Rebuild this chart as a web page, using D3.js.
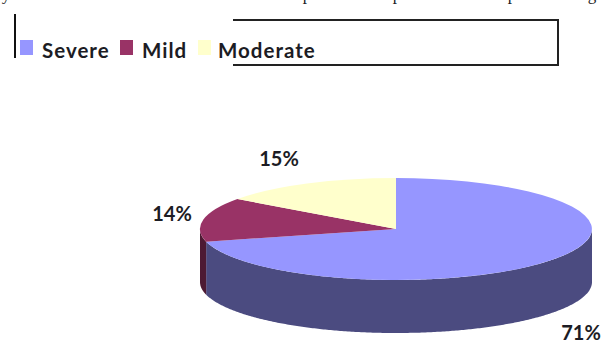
<!DOCTYPE html>
<html>
<head>
<meta charset="utf-8">
<script src="https://cdn.jsdelivr.net/npm/d3@7"></script>
<style>
  html, body { margin: 0; background: #fff; }
  svg { display: block; }
  text { font-family: Lato, "Open Sans", sans-serif; font-weight: 700; fill: #1c1c24; }
</style>
</head>
<body>
<svg id="chart" width="602" height="342"></svg>
<script>
const categories = ["Severe", "Mild", "Moderate"];
const values = [71, 14, 15];
const topColors = ["#9696ff", "#993366", "#ffffcc"];
const sideColors = ["#4b4b80", "#4d1a33", "#808066"];
const labelSpots = [[581, 340], [172, 221], [279, 166]];
const legendSwatchX = [20, 120, 198];
const legendTextX = [42, 142, 218];
const clippedLetters = ["y", "p", "p", "p", "g"];
const clippedLetterX = [6, 307, 397, 512, 592];

const svg = d3.select("#chart");
const cx = 396, cy = 229, rx = 196, ry = 51, depth = 53;

// Ellipse projection of a pie angle, measured clockwise from twelve o'clock.
const px = d3.scaleLinear().domain([-1, 1]).range([cx - rx, cx + rx]);
const py = d3.scaleLinear().domain([-1, 1]).range([cy + ry, cy - ry]);

const slices = d3.pie().sort(null).value(d => d)(values);

// Outer wall: only the part of each slice facing the viewer (90deg to 270deg).
const wall = d3.area()
  .x(a => px(Math.sin(a)))
  .y0(a => py(Math.cos(a)))
  .y1(a => py(Math.cos(a)) + depth);

slices.forEach((s, i) => {
  const from = Math.max(s.startAngle, Math.PI / 2);
  const to = Math.min(s.endAngle, Math.PI * 1.5);
  if (from >= to) return;
  const angles = d3.range(from, to, 0.01).concat([to]);
  svg.append("path").attr("d", wall(angles)).attr("fill", sideColors[i]);
});

// Top face: a flat d3.arc squashed into the ellipse.
const arc = d3.arc().innerRadius(0).outerRadius(1);
svg.append("g")
  .attr("transform", `translate(${cx},${cy}) scale(${rx},${ry})`)
  .selectAll("path")
  .data(slices)
  .join("path")
  .attr("d", arc)
  .attr("fill", (d, i) => topColors[i]);

// Percentage labels
svg.append("g")
  .selectAll("text")
  .data(values)
  .join("text")
  .attr("x", (d, i) => labelSpots[i][0])
  .attr("y", (d, i) => labelSpots[i][1])
  .attr("text-anchor", "middle")
  .attr("font-size", 20)
  .text(d => d + "%");

// Legend
const legend = svg.append("g");
legend.selectAll("rect")
  .data(categories)
  .join("rect")
  .attr("x", (d, i) => legendSwatchX[i])
  .attr("y", 40)
  .attr("width", 13)
  .attr("height", 15)
  .attr("fill", (d, i) => topColors[i]);
legend.selectAll("text")
  .data(categories)
  .join("text")
  .attr("x", (d, i) => legendTextX[i])
  .attr("y", 58)
  .attr("font-size", 20.5)
  .style("letter-spacing", "1px")
  .text(d => d);

// Frame fragments around the legend
const frame = d3.line();
svg.append("path").attr("d", frame([[15, 14], [15, 58]]))
  .attr("fill", "none").attr("stroke", "#111").attr("stroke-width", 2);
svg.append("path").attr("d", frame([[233, 20], [558, 20], [558, 65], [233, 65]]))
  .attr("fill", "none").attr("stroke", "#222").attr("stroke-width", 2);

// Line of body text running off the top edge
svg.append("g")
  .selectAll("text")
  .data(clippedLetters)
  .join("text")
  .attr("x", (d, i) => clippedLetterX[i])
  .attr("y", 0)
  .attr("text-anchor", "middle")
  .style("font-family", '"Liberation Serif", serif')
  .style("font-weight", 400)
  .attr("font-size", 17)
  .text(d => d);
</script>
</body>
</html>
